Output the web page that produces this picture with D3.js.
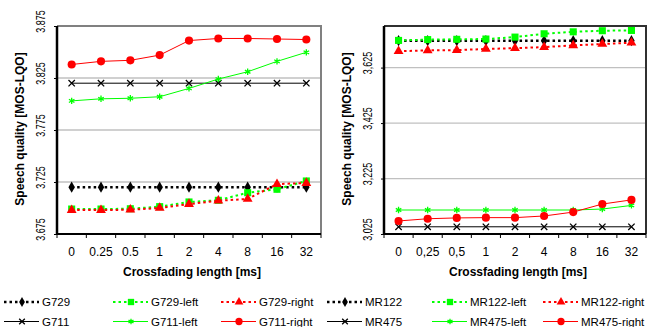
<!DOCTYPE html>
<html>
<head>
  <meta charset="utf-8">
  <title>Speech quality vs crossfading length</title>
  <script src="https://d3js.org/d3.v7.min.js"></script>
  <style>
    body { margin: 0; background: #fff; }
    text { font-family: Arial, "Liberation Sans", sans-serif; }
  </style>
</head>
<body>
<svg id="chart" width="647" height="327"></svg>
<script>
// categories (x axis)
const catsDot = ["0", "0.25", "0.5", "1", "2", "4", "8", "16", "32"];
const catsComma = ["0", "0,25", "0,5", "1", "2", "4", "8", "16", "32"];

// left panel: G729 / G711
const g729 = [3.720, 3.720, 3.720, 3.720, 3.720, 3.720, 3.720, 3.720, 3.720];
const g729Left = [3.699, 3.699, 3.6993, 3.7013, 3.7058, 3.7074, 3.7147, 3.718, 3.726];
const g729Right = [3.698, 3.698, 3.6983, 3.700, 3.7038, 3.707, 3.7087, 3.723, 3.724];
const g711 = [3.820, 3.820, 3.820, 3.820, 3.820, 3.820, 3.820, 3.820, 3.820];
const g711Left = [3.803, 3.805, 3.8055, 3.807, 3.815, 3.824, 3.831, 3.841, 3.8497];
const g711Right = [3.838, 3.841, 3.842, 3.847, 3.861, 3.863, 3.863, 3.8625, 3.862];

// right panel: MR122 / MR475
const mr122 = [3.722, 3.722, 3.722, 3.722, 3.722, 3.722, 3.722, 3.722, 3.722];
const mr122Left = [3.723, 3.726, 3.727, 3.728, 3.735, 3.747, 3.754, 3.758, 3.759];
const mr122Right = [3.684, 3.687, 3.688, 3.692, 3.695, 3.699, 3.705, 3.710, 3.715];
const mr475 = [3.051, 3.051, 3.051, 3.051, 3.051, 3.051, 3.051, 3.051, 3.051];
const mr475Left = [3.1115, 3.1115, 3.1115, 3.1115, 3.1115, 3.1115, 3.1115, 3.115, 3.128];
const mr475Right = [3.072, 3.080, 3.083, 3.084, 3.084, 3.090, 3.104, 3.133, 3.148];

// y ticks
const leftTicks = [3.675, 3.725, 3.775, 3.825, 3.875];
const rightTicks = [3.025, 3.225, 3.425, 3.625];

// series styles
const styles = {
  base:  { color: "#000", dash: "2.5,3", width: 2.5, symbol: d3.symbolDiamond, size: 36 },
  left:  { color: "#00ff00", dash: "2.5,3", width: 2, symbol: d3.symbolSquare, size: 50 },
  right: { color: "#ff0000", dash: "2.5,3", width: 2, symbol: d3.symbolTriangle, size: 42 },
  base2: { color: "#000", dash: null, width: 1, symbol: d3.symbolTimes, size: 28, stroke: true },
  left2: { color: "#00ff00", dash: null, width: 1, symbol: d3.symbolAsterisk, size: 28, stroke: true },
  right2:{ color: "#ff0000", dash: null, width: 1, symbol: d3.symbolCircle, size: 52 }
};

const svg = d3.select("#chart");

function drawPanel(opt) {
  const x = d3.scaleBand().domain(d3.range(9)).range([opt.x0, opt.x1]);
  const y = d3.scaleLinear().domain(opt.domain).range([234, 26]);
  const g = svg.append("g");

  // gridlines
  g.selectAll(".grid").data(opt.ticks.slice(1))
    .join("line")
      .attr("x1", opt.x0).attr("x2", opt.x1)
      .attr("y1", d => y(d)).attr("y2", d => y(d))
      .attr("stroke", "#c0c0c0").attr("stroke-width", 1.3);

  // frame top/right
  g.append("path")
    .attr("d", `M${opt.x0},${y(opt.domain[1])}H${opt.x1}V234`)
    .attr("fill", "none").attr("stroke", opt.frame).attr("stroke-width", 2);

  // x axis
  const xa = g.append("g").attr("transform", "translate(0,234)");
  xa.append("line").attr("x1", opt.x0).attr("x2", opt.x1)
    .attr("stroke", "#000").attr("stroke-width", 2);
  xa.selectAll(".tk").data(d3.range(10))
    .join("line")
      .attr("x1", d => opt.x0 + d * x.step()).attr("x2", d => opt.x0 + d * x.step())
      .attr("y1", 0).attr("y2", 4)
      .attr("stroke", "#000").attr("stroke-width", 1);
  xa.selectAll(".lb").data(opt.cats)
    .join("text")
      .attr("x", (d, i) => x(i) + x.bandwidth() / 2)
      .attr("y", 22)
      .attr("text-anchor", "middle")
      .style("font-size", "12px")
      .text(d => d);

  // y axis (labels rotated and condensed like the original)
  const ya = g.append("g").attr("transform", `translate(${opt.x0},0)`)
    .call(d3.axisLeft(y).tickValues(opt.ticks).tickSize(3).tickFormat(opt.fmt));
  ya.select(".domain").attr("stroke-width", 2.5).attr("d", `M0,${y(opt.domain[1])}V235`);
  ya.selectAll(".tick text")
    .attr("x", 0).attr("dy", 0)
    .attr("transform", "translate(-12.5,-5) rotate(-90) scale(0.72,1)")
    .attr("text-anchor", "middle")
    .style("font-size", "12.5px")
    .style("font-family", "Arial, 'Liberation Sans', sans-serif");

  // axis titles
  svg.append("text")
    .attr("transform", `translate(${opt.x0 - 33.5},129) rotate(-90)`)
    .attr("text-anchor", "middle")
    .style("font-size", "12px").style("font-weight", "bold")
    .text("Speech quality [MOS-LQO]");
  svg.append("text")
    .attr("x", (opt.x0 + opt.x1) / 2 + 3).attr("y", 276)
    .attr("text-anchor", "middle")
    .style("font-size", "12px").style("font-weight", "bold")
    .text("Crossfading length [ms]");

  // series
  opt.series.forEach(s => {
    const st = styles[s.style];
    const line = d3.line().x((d, i) => x(i) + x.bandwidth() / 2).y(d => y(d));
    g.append("path").datum(s.values)
      .attr("d", line)
      .attr("fill", "none")
      .attr("stroke", st.color).attr("stroke-width", st.width)
      .attr("stroke-dasharray", st.dash);
    g.selectAll(null).data(s.values)
      .join("path")
        .attr("transform", (d, i) => `translate(${x(i) + x.bandwidth() / 2},${y(d)})`)
        .attr("d", d3.symbol(st.symbol, st.size))
        .attr("fill", st.stroke ? "none" : st.color)
        .attr("stroke", st.stroke ? st.color : "none")
        .attr("stroke-width", 1.3);
  });
}

drawPanel({
  x0: 57, x1: 321, domain: [3.675, 3.875], ticks: leftTicks, cats: catsDot,
  fmt: d3.format(".3f"), frame: "#808080",
  series: [
    { values: g711, style: "base2" }, { values: g711Left, style: "left2" }, { values: g711Right, style: "right2" },
    { values: g729, style: "base" }, { values: g729Left, style: "left" }, { values: g729Right, style: "right" }
  ]
});

drawPanel({
  x0: 384, x1: 646, domain: [3.025, 3.775], ticks: rightTicks, cats: catsComma,
  fmt: d => d3.format(".3f")(d).replace(".", ","), frame: "#303030",
  series: [
    { values: mr475, style: "base2" }, { values: mr475Left, style: "left2" }, { values: mr475Right, style: "right2" },
    { values: mr122, style: "base" }, { values: mr122Left, style: "left" }, { values: mr122Right, style: "right" }
  ]
});

// legend
const legendItems = [
  { name: "G729", style: "base", x: 4, row: 0 },
  { name: "G729-left", style: "left", x: 113, row: 0 },
  { name: "G729-right", style: "right", x: 221, row: 0 },
  { name: "MR122", style: "base", x: 327, row: 0 },
  { name: "MR122-left", style: "left", x: 432, row: 0 },
  { name: "MR122-right", style: "right", x: 543, row: 0 },
  { name: "G711", style: "base2", x: 4, row: 1 },
  { name: "G711-left", style: "left2", x: 113, row: 1 },
  { name: "G711-right", style: "right2", x: 221, row: 1 },
  { name: "MR475", style: "base2", x: 327, row: 1 },
  { name: "MR475-left", style: "left2", x: 432, row: 1 },
  { name: "MR475-right", style: "right2", x: 543, row: 1 }
];
const lg = svg.append("g");
legendItems.forEach(it => {
  const st = styles[it.style];
  const cy = 302 + it.row * 19.5;
  lg.append("line")
    .attr("x1", it.x).attr("x2", it.x + 35).attr("y1", cy).attr("y2", cy)
    .attr("stroke", st.color).attr("stroke-width", st.width)
    .attr("stroke-dasharray", st.dash);
  lg.append("path")
    .attr("transform", `translate(${it.x + 18},${cy})`)
    .attr("d", d3.symbol(st.symbol, st.size * 0.8))
    .attr("fill", st.stroke ? "none" : st.color)
    .attr("stroke", st.stroke ? st.color : "none")
    .attr("stroke-width", 1.3);
  lg.append("text")
    .attr("x", it.x + 38).attr("y", cy + 4)
    .style("font-size", "11.5px")
    .text(it.name);
});
</script>
</body>
</html>
